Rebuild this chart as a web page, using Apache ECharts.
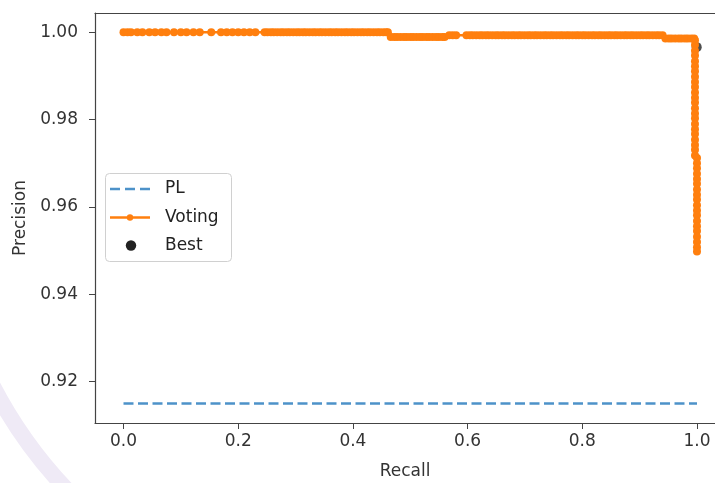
<!DOCTYPE html>
<html>
<head>
<meta charset="utf-8">
<script src="https://cdn.jsdelivr.net/npm/echarts@6/dist/echarts.min.js"></script>
<style>
html,body{margin:0;padding:0;background:#fff;}
#chart{width:715px;height:483px;}
</style>
</head>
<body>
<div id="chart"></div>
<script>
// ---- data ----
const xTickValues = [0.0, 0.2, 0.4, 0.6, 0.8, 1.0];
const yTickValues = [0.92, 0.94, 0.96, 0.98, 1.00];
const legendNames = ['PL', 'Voting', 'Best'];

const plRecall = [0.0, 1.0];
const plPrecision = [0.915, 0.915];

// Voting: horizontal runs (recall values) at a given precision level
const stepPrecision = [1.0, 0.9989, 0.9993, 0.9986];
const votingRecallA = [0.000, 0.007, 0.013, 0.024, 0.033, 0.045, 0.055, 0.066, 0.075, 0.088,
  0.100, 0.110, 0.122, 0.133, 0.153, 0.170, 0.180, 0.190, 0.200, 0.210, 0.220, 0.230,
  0.246, 0.251, 0.257, 0.262, 0.268, 0.274, 0.279, 0.285, 0.290, 0.296, 0.302, 0.307,
  0.313, 0.318, 0.324, 0.330, 0.335, 0.341, 0.346, 0.352, 0.358, 0.363, 0.369, 0.374,
  0.380, 0.386, 0.391, 0.397, 0.402, 0.408, 0.414, 0.419, 0.425, 0.430, 0.436, 0.442,
  0.447, 0.453, 0.458, 0.461];
const votingRecallB = [0.466, 0.472, 0.477, 0.483, 0.489, 0.494, 0.500, 0.505, 0.511, 0.517,
  0.522, 0.528, 0.533, 0.539, 0.545, 0.550, 0.556, 0.560];
const votingRecallC = [0.568, 0.574, 0.580, 0.598, 0.604, 0.609, 0.615, 0.621, 0.626, 0.632,
  0.637, 0.643, 0.649, 0.654, 0.660, 0.665, 0.671, 0.677, 0.682, 0.688, 0.693, 0.699,
  0.705, 0.710, 0.716, 0.721, 0.727, 0.733, 0.738, 0.744, 0.749, 0.755, 0.761, 0.766,
  0.772, 0.777, 0.783, 0.789, 0.794, 0.800, 0.805, 0.811, 0.817, 0.822, 0.828, 0.833,
  0.839, 0.845, 0.850, 0.856, 0.861, 0.867, 0.873, 0.878, 0.884, 0.889, 0.895, 0.901,
  0.906, 0.912, 0.917, 0.923, 0.929, 0.934, 0.940];
const votingRecallD = [0.945, 0.951, 0.956, 0.962, 0.968, 0.973, 0.979, 0.984, 0.990, 0.995];

// Voting: vertical runs (precision values) at a given recall level
const verticalRecall = [0.9965, 1.0];
const votingPrecisionE = [0.9982, 0.9971, 0.9958, 0.9947, 0.9934, 0.9922, 0.9911, 0.9898,
  0.9886, 0.9875, 0.9862, 0.9850, 0.9839, 0.9826, 0.9814, 0.9803, 0.9790, 0.9778,
  0.9767, 0.9754, 0.9742, 0.9731, 0.9718];
const votingPrecisionF = [0.9712, 0.9700, 0.9689, 0.9676, 0.9664, 0.9653, 0.9640, 0.9628,
  0.9617, 0.9604, 0.9592, 0.9581, 0.9568, 0.9556, 0.9545, 0.9532, 0.9520, 0.9508, 0.9498];

const bestPoint = [0.9995, 0.9966];

// ---- build series data ----
const votingData = [];
[votingRecallA, votingRecallB, votingRecallC, votingRecallD].forEach((arr, i) => {
  arr.forEach(r => votingData.push([r, stepPrecision[i]]));
});
votingPrecisionE.forEach(p => votingData.push([verticalRecall[0], p]));
votingPrecisionF.forEach(p => votingData.push([verticalRecall[1], p]));
const plData = plRecall.map((r, i) => [r, plPrecision[i]]);

const FONT = 'DejaVu Sans';
const BLUE = '#4d92c9', ORANGE = '#ff7f0e', BLACK = '#222';
const AX = '#444';

// legend drawn as graphic elements (matplotlib-style)
const LX = 105, LY = 173, rowY = [189, 217.5, 245.5];
const legendGraphic = [
  {type: 'rect', z: 20, silent: true, shape: {x: LX + 0.5, y: LY + 0.5, width: 126, height: 88, r: 4},
    style: {fill: 'rgba(255,255,255,0.85)', stroke: '#d0d0d0', lineWidth: 1}},
  {type: 'line', z: 21, silent: true, shape: {x1: 110, y1: rowY[0], x2: 150, y2: rowY[0]},
    style: {stroke: BLUE, lineWidth: 2.5, lineDash: [10, 5]}},
  {type: 'line', z: 21, silent: true, shape: {x1: 110, y1: rowY[1], x2: 150, y2: rowY[1]},
    style: {stroke: ORANGE, lineWidth: 2.5}},
  {type: 'circle', z: 22, silent: true, shape: {cx: 130, cy: rowY[1], r: 3.2}, style: {fill: ORANGE}},
  {type: 'circle', z: 22, silent: true, shape: {cx: 131, cy: rowY[2], r: 5.2}, style: {fill: BLACK}}
].concat(legendNames.map((n, i) => ({
  type: 'text', z: 22, silent: true,
  style: {text: n, x: 165, y: rowY[i], verticalAlign: 'middle', align: 'left',
    fontFamily: FONT, fontSize: 17, fill: '#222'}
})));

const chart = echarts.init(document.getElementById('chart'), null, {renderer: 'canvas'});
chart.setOption({
  animation: false,
  backgroundColor: '#ffffff',
  graphic: [{
    type: 'circle', z: -10, silent: true,
    shape: {cx: 400, cy: 174, r: 459},
    style: {fill: 'none', stroke: '#efeaf6', lineWidth: 16}
  }].concat(legendGraphic),
  grid: {left: 95, right: 0, top: 13, bottom: 60, show: false, containLabel: false, outerBoundsMode: 'none'},
  xAxis: [{
    type: 'value', min: -0.0497, max: 1.0314,
    name: 'Recall', nameLocation: 'middle', nameGap: 40,
    nameTextStyle: {fontFamily: FONT, fontSize: 17, color: '#333'},
    splitLine: {show: false},
    axisLine: {show: true, onZero: false, lineStyle: {color: AX, width: 1.2}},
    axisTick: {show: true, length: 6, customValues: xTickValues, lineStyle: {color: AX}},
    axisLabel: {customValues: xTickValues, margin: 10, fontFamily: FONT, fontSize: 17, color: '#333',
      formatter: v => v.toFixed(1)}
  }, {
    type: 'value', position: 'top', min: -0.0497, max: 1.0314,
    splitLine: {show: false}, axisTick: {show: false}, axisLabel: {show: false},
    axisLine: {show: true, onZero: false, lineStyle: {color: AX, width: 1.2}}
  }],
  yAxis: {
    type: 'value', min: 0.91054, max: 1.00442,
    name: 'Precision', nameLocation: 'middle', nameGap: 66, nameRotate: 90,
    nameTextStyle: {fontFamily: FONT, fontSize: 17, color: '#333'},
    splitLine: {show: false},
    axisLine: {show: true, onZero: false, lineStyle: {color: AX, width: 1.2}},
    axisTick: {show: true, length: 6, customValues: yTickValues, lineStyle: {color: AX}},
    axisLabel: {customValues: yTickValues, margin: 17, fontFamily: FONT, fontSize: 17, color: '#333',
      formatter: v => v.toFixed(2)}
  },
  series: [
    {
      name: legendNames[0], type: 'line', data: plData, symbol: 'none',
      lineStyle: {color: BLUE, width: 2.5, type: [10, 4.5]},
      itemStyle: {color: BLUE}, z: 2
    },
    {
      name: legendNames[2], type: 'scatter', data: [bestPoint], symbol: 'circle', symbolSize: 10,
      itemStyle: {color: BLACK}, z: 2
    },
    {
      name: legendNames[1], type: 'line', data: votingData, symbol: 'circle', symbolSize: 8,
      showAllSymbol: true,
      lineStyle: {color: ORANGE, width: 2.5},
      itemStyle: {color: ORANGE, borderWidth: 0}, z: 3
    }
  ]
});
</script>
</body>
</html>
